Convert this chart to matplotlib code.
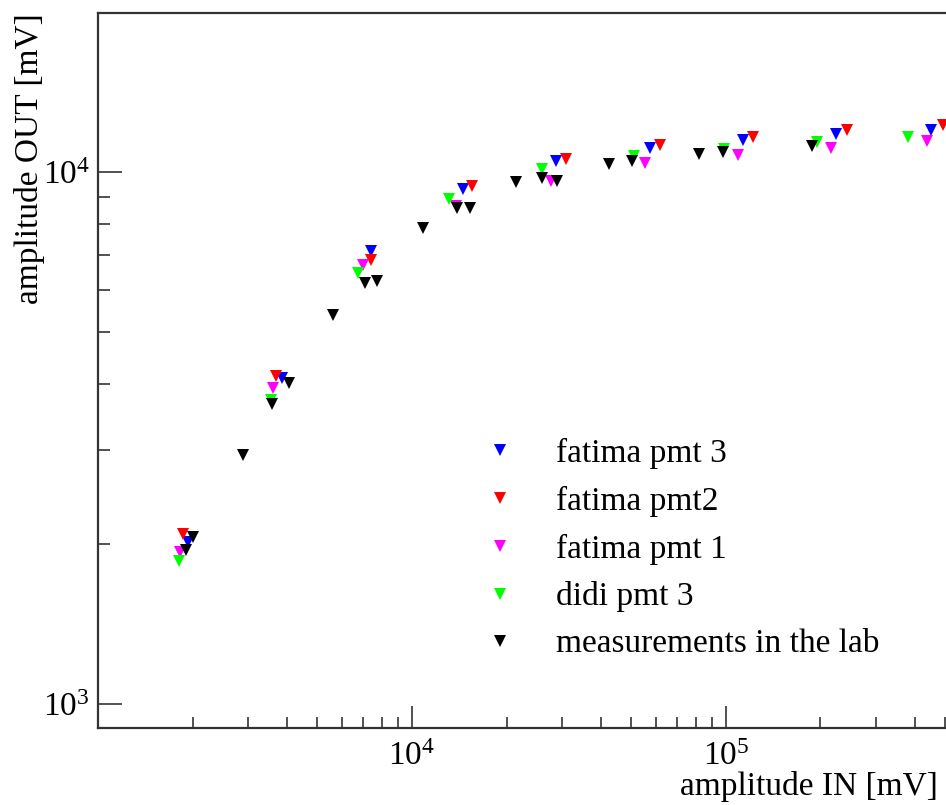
import matplotlib
matplotlib.use("Agg")
import matplotlib.pyplot as plt
from matplotlib.ticker import LogLocator, NullFormatter

plt.rcParams['font.family'] = ['Liberation Serif', 'DejaVu Serif']
plt.rcParams['mathtext.fontset'] = 'custom'
plt.rcParams['mathtext.rm'] = 'Liberation Serif'
plt.rcParams['mathtext.it'] = 'Liberation Serif:italic'
plt.rcParams['font.size'] = 24

### data (amplitude IN, amplitude OUT), mV
pmt3_in = [1935, 3855, 7404, 14535, 28740, 57280, 113260, 224000, 449700]
pmt3_out = [2019, 4111, 7100, 9290, 10490, 11100, 11490, 11790, 12000]

pmt2_in = [1865, 3689, 7377, 15530, 30940, 61640, 121900, 242900, 491000]
pmt2_out = [2090, 4147, 6829, 9411, 10580, 11240, 11640, 12000, 12260]

pmt1_in = [1824, 3608, 6982, 13810, 27710, 55210, 109200, 216000, 436600]
pmt1_out = [1933, 3937, 6682, 8630, 9617, 10400, 10770, 11100, 11440]

didi_in = [1811, 3556, 6730, 13120, 25940, 50930, 98540, 194900, 379900]
didi_out = [1859, 3737, 6453, 8897, 10130, 10720, 11050, 11390, 11640]

lab_in = [1913, 2007, 2895, 3583, 4058, 5603, 7085, 7736, 10840, 13910,
          15300, 21440, 25940, 28950, 42410, 50190, 82030, 97810, 187900]
lab_out = [1950, 2063, 2943, 3673, 4023, 5403, 6205, 6259, 7845, 8553,
           8553, 9576, 9743, 9617, 10350, 10490, 10810, 10900, 11190]

x_major = [1e4, 1e5]

series = [
    (pmt3_in, pmt3_out, '#0000ff', 'fatima pmt 3'),
    (pmt2_in, pmt2_out, '#ff0000', 'fatima pmt2'),
    (pmt1_in, pmt1_out, '#ff00ff', 'fatima pmt 1'),
    (didi_in, didi_out, '#00ff00', 'didi pmt 3'),
    (lab_in, lab_out, '#000000', 'measurements in the lab'),
]

W, H = 946, 805
fig = plt.figure(figsize=(W / 100, H / 100), dpi=100)
# axes runs a little past the right edge, like the cropped original
ax = fig.add_axes([98 / W, 1 - 728 / H, (950 - 98) / W, (728 - 13) / H])

for xs, ys, col, lab in series:
    ax.plot(xs, ys, linestyle='none', marker='v', markersize=9,
            markerfacecolor=col, markeredgewidth=0, label=lab)

ax.set_xscale('log')
ax.set_yscale('log')
ax.set_xlim(1000, 5.17e5)
ax.set_ylim(902, 19930)

ax.set_xticks(x_major)
ax.xaxis.set_minor_locator(LogLocator(base=10, subs=range(2, 10)))
ax.yaxis.set_minor_locator(LogLocator(base=10, subs=range(2, 10)))
ax.xaxis.set_minor_formatter(NullFormatter())
ax.yaxis.set_minor_formatter(NullFormatter())

for side in ['left', 'bottom', 'top', 'right']:
    ax.spines[side].set_linewidth(1.6)
    ax.spines[side].set_color('#333333')

ax.tick_params(which='both', direction='in', top=False, right=False,
               color='#333333', width=1.2, labelsize=24)
ax.tick_params(axis='y', which='major', length=17, pad=6)
ax.tick_params(axis='y', which='minor', length=8.5)
ax.tick_params(axis='x', which='major', length=16, pad=10)
ax.tick_params(axis='x', which='minor', length=8)

fig.text(30 / W, 1 - 13 / H, 'amplitude OUT [mV]', rotation=90,
         ha='center', va='top', fontsize=24)
fig.text(938 / W, 1 - 795 / H, 'amplitude IN [mV]', ha='right',
         va='baseline', fontsize=24)

ax.legend(loc='upper left', bbox_to_anchor=(483 / W, 1 - 438 / H),
          bbox_transform=fig.transFigure, frameon=False, fontsize=24,
          markerscale=0.9, handlelength=1.0, handletextpad=1.2,
          labelspacing=0.5, borderpad=0, borderaxespad=0)

fig.savefig('out.png', dpi=100)
